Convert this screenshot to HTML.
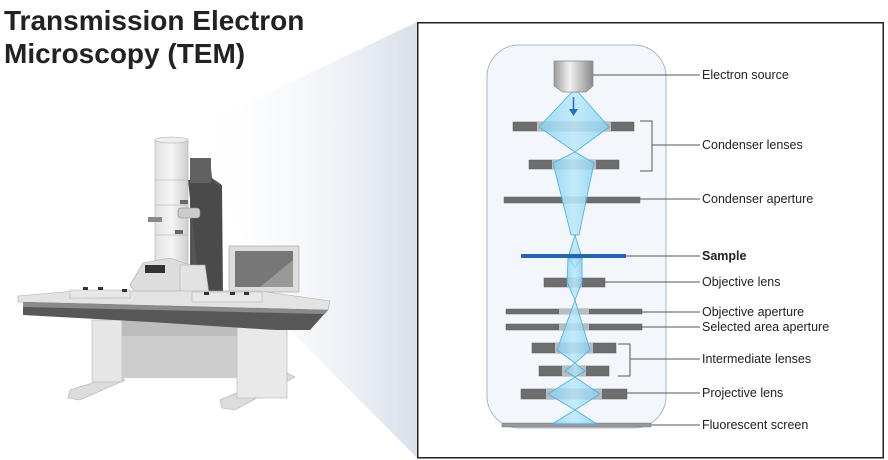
<!DOCTYPE html>
<html><head><meta charset="utf-8"><style>
html,body{margin:0;padding:0;background:#fff;}
svg{display:block;font-family:"Liberation Sans",sans-serif;}
</style></head><body>
<svg width="888" height="460" viewBox="0 0 888 460" xmlns="http://www.w3.org/2000/svg">
<defs>
<linearGradient id="wedge" x1="0" y1="0" x2="1" y2="0">
<stop offset="0" stop-color="#ffffff" stop-opacity="0"/>
<stop offset="1" stop-color="#d9e0ea"/>
</linearGradient>
<linearGradient id="beam" x1="0" y1="0" x2="1" y2="0">
<stop offset="0" stop-color="#7fd0f2"/><stop offset="0.5" stop-color="#b5e6fa"/><stop offset="1" stop-color="#7fd0f2"/>
</linearGradient>
<linearGradient id="src" x1="0" y1="0" x2="1" y2="0">
<stop offset="0" stop-color="#9a9a9a"/><stop offset="0.4" stop-color="#f2f2f2"/><stop offset="1" stop-color="#8a8a8a"/>
</linearGradient>
<linearGradient id="col" x1="0" y1="0" x2="1" y2="0">
<stop offset="0" stop-color="#e2e2e2"/><stop offset="0.5" stop-color="#f4f4f4"/><stop offset="1" stop-color="#cfcfcf"/>
</linearGradient>
</defs>

<!-- wedge -->
<polygon points="190,130 417,22 417,458 290,330" fill="url(#wedge)"/>

<!-- title -->
<text x="4" y="30" font-size="28" font-weight="bold" fill="#222">Transmission Electron</text>
<text x="4" y="63" font-size="28" font-weight="bold" fill="#222">Microscopy (TEM)</text>

<!-- microscope -->
<g>
<!-- legs -->
<polygon points="70,390 118,375 125,380 80,400 68,398" fill="#dcdcdc" stroke="#bbb" stroke-width="0.7"/>
<polygon points="220,400 285,372 295,377 235,410 222,408" fill="#dcdcdc" stroke="#bbb" stroke-width="0.7"/>
<rect x="92" y="320" width="30" height="62" fill="#e6e6e6" stroke="#bbb" stroke-width="0.7"/>
<rect x="122" y="318" width="115" height="60" fill="#cdcdcd"/>
<rect x="122" y="318" width="115" height="18" fill="#bdbdbd"/>
<rect x="237" y="320" width="50" height="78" fill="#e9e9e9" stroke="#bbb" stroke-width="0.7"/>
<!-- dark tower -->
<polygon points="190,160 210,158 212,178 222,185 223,292 190,292" fill="#555"/>
<polygon points="188,180 210,178 222,190 222,292 200,292" fill="#4a4a4a"/>
<rect x="190" y="158" width="21" height="25" fill="#616161"/>
<!-- column -->
<rect x="155" y="140" width="33" height="142" fill="url(#col)" stroke="#aaa" stroke-width="0.6"/>
<ellipse cx="171.5" cy="140" rx="16.5" ry="3" fill="#eee" stroke="#aaa" stroke-width="0.6"/>
<line x1="155" y1="180" x2="188" y2="180" stroke="#aaa" stroke-width="0.6"/>
<line x1="155" y1="205" x2="188" y2="205" stroke="#aaa" stroke-width="0.6"/>
<line x1="155" y1="235" x2="188" y2="235" stroke="#aaa" stroke-width="0.6"/>
<rect x="148" y="217" width="14" height="5" fill="#888"/>
<rect x="178" y="208" width="22" height="10" rx="3" fill="#ccc" stroke="#888" stroke-width="0.6"/>
<rect x="180" y="200" width="8" height="4" fill="#666"/>
<rect x="175" y="230" width="8" height="4" fill="#666"/>
<!-- stage -->
<polygon points="143,263 170,258 190,265 188,298 140,300 130,285" fill="#ddd" stroke="#aaa" stroke-width="0.6"/>
<rect x="145" y="265" width="10" height="8" fill="#333"/><rect x="155" y="265" width="10" height="8" fill="#333"/>
<polygon points="180,265 205,265 210,300 180,302" fill="#e2e2e2" stroke="#aaa" stroke-width="0.6"/>
<!-- monitor -->
<rect x="229" y="246" width="70" height="46" fill="#ddd" stroke="#aaa" stroke-width="0.7"/>
<rect x="235" y="251" width="58" height="36" fill="#777"/>
<polygon points="260,287 293,260 293,287" fill="#999"/>
<rect x="258" y="292" width="10" height="5" fill="#bbb"/>
<!-- table -->
<polygon points="18,296 75,291 260,291 330,301 328,310 18,302" fill="#e3e3e3" stroke="#aaa" stroke-width="0.6"/>
<polygon points="23,302 328,310 310,330 275,330 150,322 23,315" fill="#575757"/>
<polygon points="23,302 328,310 325,314 23,307" fill="#8a8a8a"/>
<rect x="70" y="290" width="60" height="8" fill="#e8e8e8" stroke="#aaa" stroke-width="0.5"/>
<rect x="192" y="292" width="70" height="10" fill="#e8e8e8" stroke="#aaa" stroke-width="0.5"/>
<rect x="83" y="287" width="5" height="3" fill="#333"/><rect x="98" y="287" width="5" height="3" fill="#333"/><rect x="122" y="289" width="5" height="3" fill="#333"/>
<rect x="204" y="292" width="5" height="3" fill="#333"/><rect x="230" y="292" width="5" height="3" fill="#333"/><rect x="244" y="292" width="5" height="3" fill="#333"/>
</g>

<!-- box -->
<rect x="417.75" y="22.75" width="465.5" height="435" fill="#fff" stroke="#222" stroke-width="1.5"/>
<rect x="487" y="45" width="179" height="383" rx="32" fill="#f3f7fc" stroke="#a9b8c6" stroke-width="1"/>

<!-- leader lines -->
<g stroke="#555" stroke-width="1" fill="none">
<line x1="593" y1="75" x2="700" y2="75"/>
<polyline points="640,121 652,121 652,171 640,171"/>
<line x1="652" y1="145" x2="700" y2="145"/>
<line x1="640" y1="199" x2="700" y2="199"/>
<line x1="626" y1="256" x2="700" y2="256"/>
<line x1="605" y1="282" x2="700" y2="282"/>
<line x1="642" y1="312" x2="700" y2="312"/>
<line x1="642" y1="327" x2="700" y2="327"/>
<polyline points="618,344 630,344 630,376 618,376"/>
<line x1="630" y1="359" x2="700" y2="359"/>
<line x1="627" y1="393" x2="700" y2="393"/>
<line x1="651" y1="425" x2="700" y2="425"/>
</g>

<!-- lenses / apertures -->
<g fill="#6e6e6e" stroke="#5a5a5a" stroke-width="0.5">
<rect x="513" y="122" width="121" height="9"/>
<rect x="529" y="160" width="90" height="9"/>
<rect x="504" y="197" width="136" height="6"/>
<rect x="544" y="278" width="61" height="9"/>
<rect x="506" y="309" width="136" height="5"/>
<rect x="506" y="324" width="136" height="6"/>
<rect x="532" y="343" width="84" height="10"/>
<rect x="539" y="366" width="70" height="10"/>
<rect x="521" y="389" width="106" height="10"/>
</g>
<g fill="#b9bcc0">
<rect x="537" y="122" width="74" height="9"/>
<rect x="552" y="160" width="44" height="9"/>
<rect x="563" y="197" width="22" height="6"/>
<rect x="567" y="278" width="15" height="9"/>
<rect x="559" y="309" width="30" height="5"/>
<rect x="559" y="324" width="30" height="6"/>
<rect x="555" y="343" width="38" height="10"/>
<rect x="562" y="366" width="24" height="10"/>
<rect x="546" y="389" width="56" height="10"/>
</g>
<rect x="502" y="423" width="149" height="4" fill="#999" stroke="#777" stroke-width="0.5"/>

<!-- beam -->
<g fill="url(#beam)" fill-opacity="0.75" stroke="#4aaee0" stroke-width="0.8">
<polygon points="572,92 578,92 609,127 575,152 539,127"/>
<polygon points="575,152 594,163 579,235 571,235 553,163"/>
<polygon points="575,235 582,258 575,268 568,258"/>
<polygon points="568,258 582,258 582,282 575,300 567,282"/>
<polygon points="575,300 590,350 575,363 557,350"/>
<polygon points="575,363 585,371 575,377 565,371"/>
<polygon points="575,377 600,394 575,410 548,394"/>
<polygon points="575,410 597,424 552,424"/>
</g>
<rect x="521" y="254" width="105" height="4" fill="#2266b0"/>

<!-- electron source -->
<polygon points="554,61 593,61 593,86 586,92 563,92 554,86" fill="url(#src)" stroke="#888" stroke-width="0.7"/>
<line x1="573.5" y1="97" x2="573.5" y2="110" stroke="#1e73c8" stroke-width="1.5"/>
<polygon points="569,109 578,109 573.5,116" fill="#1e73c8"/>

<!-- labels -->
<g font-size="12.5" fill="#222">
<text x="702" y="79">Electron source</text>
<text x="702" y="149">Condenser lenses</text>
<text x="702" y="203">Condenser aperture</text>
<text x="702" y="260" font-weight="bold">Sample</text>
<text x="702" y="286">Objective lens</text>
<text x="702" y="316">Objective aperture</text>
<text x="702" y="331">Selected area aperture</text>
<text x="702" y="363">Intermediate lenses</text>
<text x="702" y="397">Projective lens</text>
<text x="702" y="429">Fluorescent screen</text>
</g>
</svg>
</body></html>
